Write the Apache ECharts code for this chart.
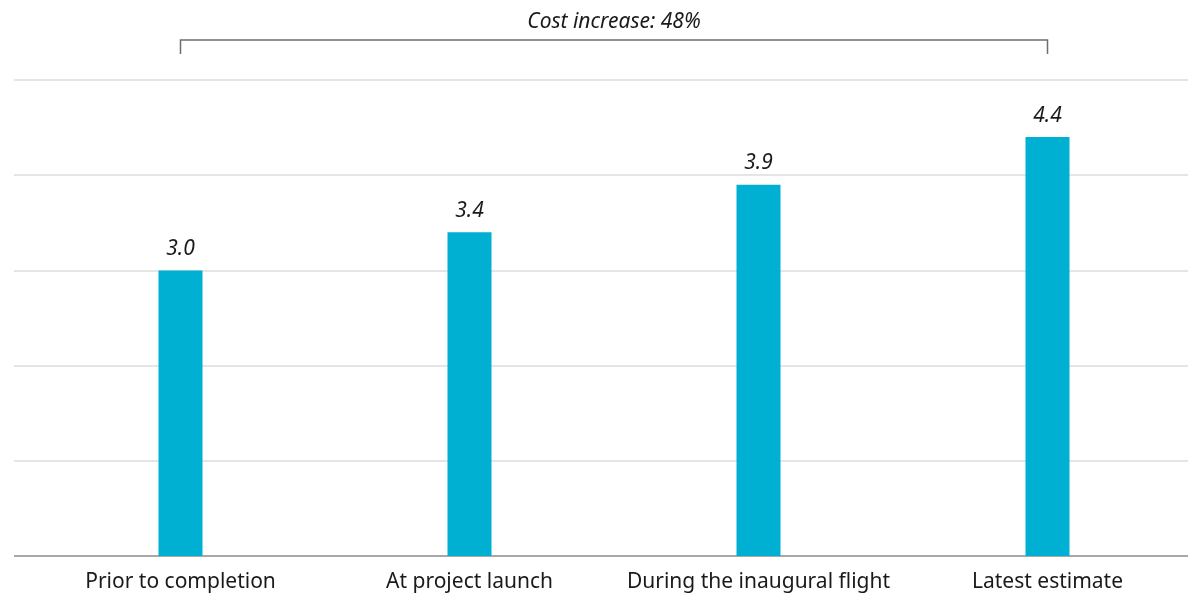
<!DOCTYPE html>
<html>
<head>
<meta charset="utf-8">
<script src="https://cdn.jsdelivr.net/npm/echarts@6/dist/echarts.min.js"></script>
<style>
  html, body { margin: 0; padding: 0; background: #fff; }
  #chart { width: 1188px; height: 593px; }
</style>
</head>
<body>
<div id="chart"></div>
<script>
// Cost estimates at each stage
const categories = ['Prior to completion', 'At project launch', 'During the inaugural flight', 'Latest estimate'];
const costValues = [3.0, 3.4, 3.9, 4.4];
const increaseLabel = 'Cost increase: 48%';
const yMin = 0, yMax = 5, yStep = 1;

const FONT = '"Noto Sans", "Open Sans", sans-serif';
const chart = echarts.init(document.getElementById('chart'), null, { renderer: 'canvas' });

const option = {
  animation: false,
  backgroundColor: '#ffffff',
  grid: [
    // background grid lines span the full width
    { left: 14, right: 0, top: 80, bottom: 37, outerBoundsMode: 'none' },
    // bar plot area
    { left: 36, width: 1156, top: 80, bottom: 37, outerBoundsMode: 'none' }
  ],
  xAxis: [
    { gridIndex: 0, type: 'value', show: false, min: 0, max: 1 },
    {
      gridIndex: 1, type: 'category', data: categories,
      axisLine: { show: false },
      axisTick: { show: false },
      axisLabel: { interval: 0, color: '#1a1a1a', fontFamily: FONT, fontSize: 21, margin: 16 }
    }
  ],
  yAxis: [
    {
      gridIndex: 0, type: 'value', min: yMin, max: yMax, interval: yStep,
      axisLabel: { show: false }, axisTick: { show: false }, axisLine: { show: false },
      splitLine: { show: true, lineStyle: { color: '#dcdcdc', width: 1.5 } }
    },
    {
      gridIndex: 1, type: 'value', min: yMin, max: yMax, interval: yStep, show: false
    }
  ],
  series: [
    {
      // baseline drawn as a full-width line at zero
      type: 'line', xAxisIndex: 0, yAxisIndex: 0,
      data: [[0, yMin], [1, yMin]], symbol: 'none',
      lineStyle: { color: '#a8a8a8', width: 2 }, silent: true, z: 1
    },
    {
      type: 'bar', xAxisIndex: 1, yAxisIndex: 1,
      data: costValues, barWidth: 44,
      itemStyle: { color: '#00b0d3' },
      z: 3,
      label: {
        show: true, position: 'top', distance: 11,
        formatter: p => p.value.toFixed(1),
        fontFamily: FONT, fontStyle: 'italic', fontSize: 21, color: '#1a1a1a'
      }
    }
  ]
};
chart.setOption(option);

// Bracket spanning the first and last bars, with the increase label above
const xFirst = chart.convertToPixel({ xAxisIndex: 1 }, 0);
const xLast = chart.convertToPixel({ xAxisIndex: 1 }, categories.length - 1);
const bracketY = 40, tickLen = 14;
chart.setOption({
  graphic: [
    {
      type: 'polyline', silent: true,
      shape: { points: [[xFirst, bracketY + tickLen], [xFirst, bracketY], [xLast, bracketY], [xLast, bracketY + tickLen]] },
      style: { stroke: '#6e6e6e', lineWidth: 1.5, fill: null }
    },
    {
      type: 'text', silent: true,
      x: (xFirst + xLast) / 2, y: 22,
      style: {
        text: increaseLabel, align: 'center', verticalAlign: 'middle',
        font: 'italic 21px ' + FONT, fill: '#1a1a1a'
      }
    }
  ]
});
</script>
</body>
</html>
